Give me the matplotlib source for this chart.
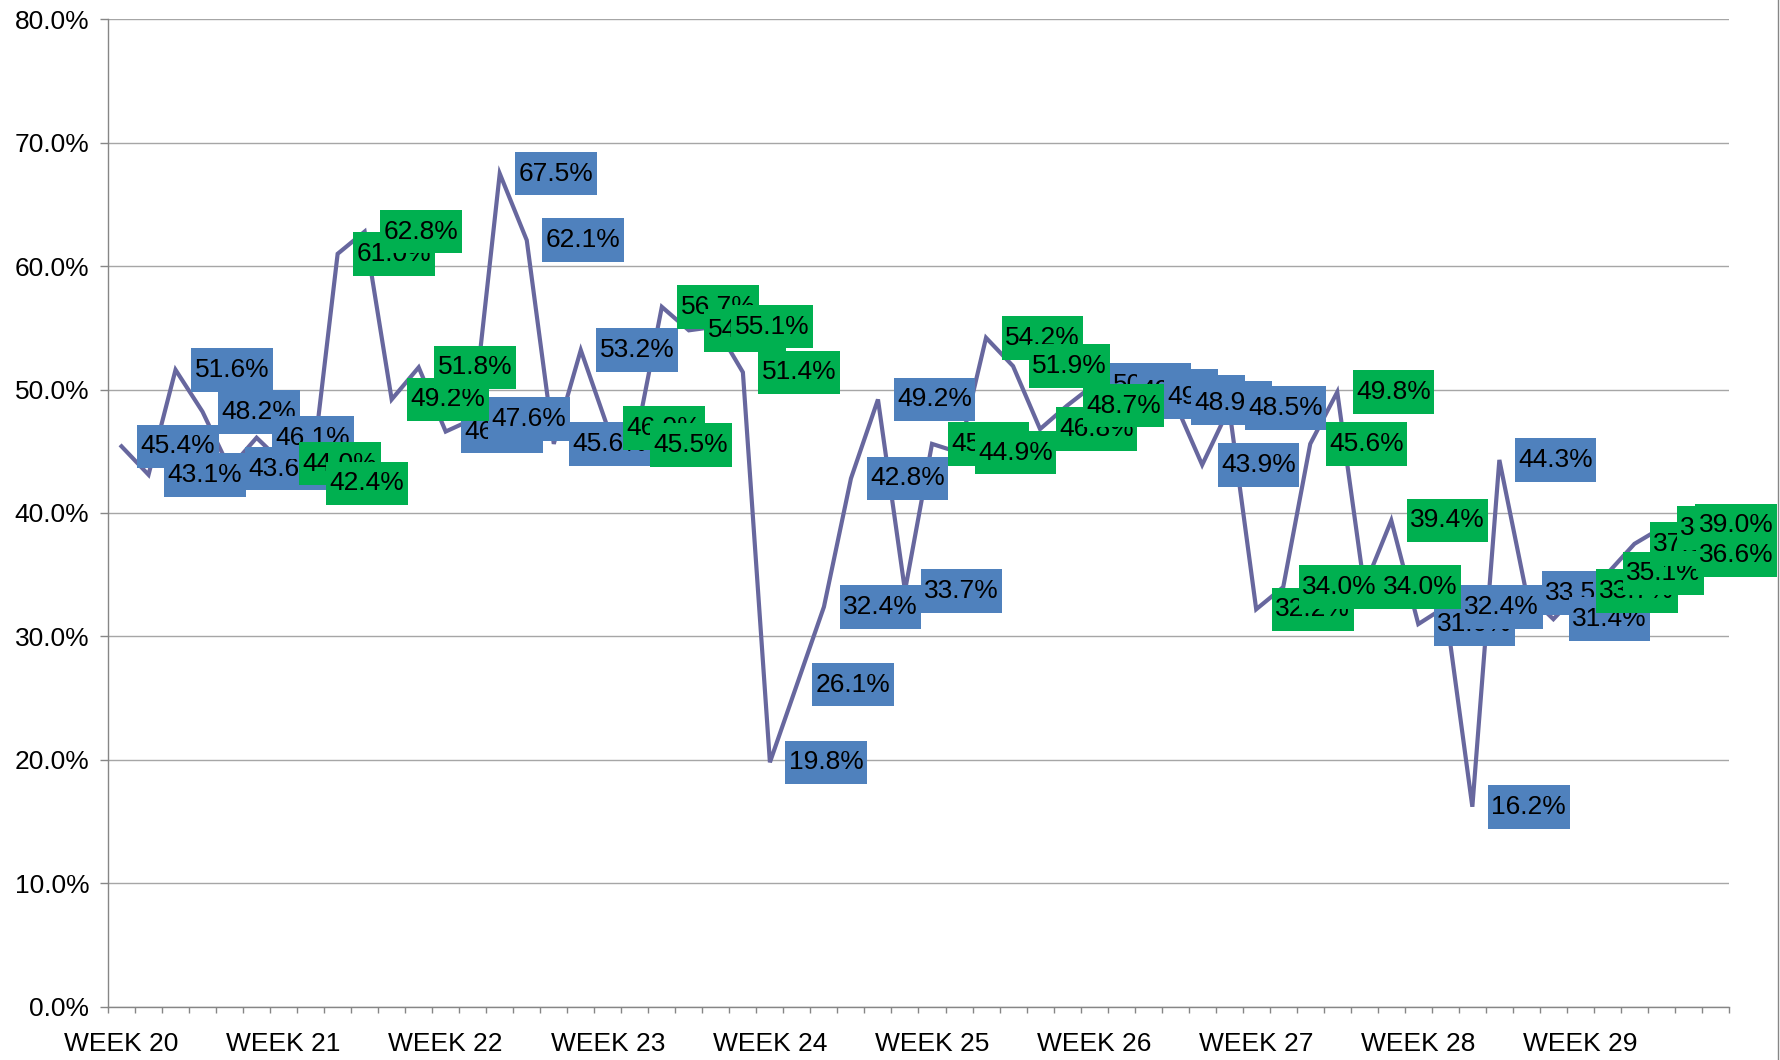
import matplotlib
matplotlib.use("Agg")
import matplotlib.pyplot as plt
from matplotlib.lines import Line2D
from matplotlib.path import Path
import numpy as np

plt.rcParams['font.family'] = ['Liberation Sans', 'DejaVu Sans']

# ---- data ----
weeks = ["WEEK 20", "WEEK 21", "WEEK 22", "WEEK 23", "WEEK 24",
         "WEEK 25", "WEEK 26", "WEEK 27", "WEEK 28", "WEEK 29"]
days_per_week = 6
values = [45.4, 43.1, 51.6, 48.2, 43.6, 46.1,
          44.0, 42.4, 61.0, 62.8, 49.2, 51.8,
          46.6, 47.6, 67.5, 62.1, 45.6, 53.2,
          46.9, 45.5, 56.7, 54.8, 55.1, 51.4,
          19.8, 26.1, 32.4, 42.8, 49.2, 33.7,
          45.6, 44.9, 54.2, 51.9, 46.8, 48.7,
          50.4, 49.9, 49.4, 48.9, 43.9, 48.5,
          32.2, 34.0, 45.6, 49.8, 34.0, 39.4,
          31.0, 32.4, 16.2, 44.3, 33.5, 31.4,
          33.7, 35.1, 37.5, 38.8, 39.0, 36.6]
y_ticks = [0, 10, 20, 30, 40, 50, 60, 70, 80]

# ---- style ----
LINE_C = '#67679E'
BLUE = '#4F81BD'
GREEN = '#00B050'
GRID_C = '#A6A6A6'
AXIS_C = '#868686'
PADX, PADY = 0.13, 0.37


def label_box(x0, y0, width, height, mutation_size):
    px = PADX * mutation_size
    py = PADY * mutation_size
    xa, ya = x0 - px, y0 - py
    xb, yb = x0 + width + px, y0 + height + py
    return Path([(xa, ya), (xb, ya), (xb, yb), (xa, yb), (xa, ya)],
                [Path.MOVETO, Path.LINETO, Path.LINETO, Path.LINETO, Path.CLOSEPOLY])


W, H = 1781, 1060
fig = plt.figure(figsize=(W / 100, H / 100), dpi=100)
ax = fig.add_axes([108 / W, 1 - 1006.7 / H, (1729 - 108) / W, (1006.7 - 19.3) / H])

n = len(values)
x = np.arange(n)
y = np.array(values) / 100.0

ax.plot(x, y, color=LINE_C, lw=3.0, solid_joinstyle='miter', zorder=2)

ax.set_xlim(-0.5, n - 0.5)
ax.set_ylim(0, 0.8)
ax.set_yticks([t / 100 for t in y_ticks])
ax.set_yticklabels([f"{t:.1f}%" for t in y_ticks], fontsize=19)
ax.yaxis.grid(True, color=GRID_C, lw=1.0)
ax.set_axisbelow(True)

ax.set_xticks(np.arange(-0.5, n, 1))
ax.set_xticklabels([])
ax.set_xticks(np.arange(0, n, days_per_week), minor=True)
ax.set_xticklabels(weeks, minor=True, fontsize=19)
ax.tick_params(axis='x', which='major', direction='out', length=4.5, color=AXIS_C, width=1)
ax.tick_params(axis='x', which='minor', length=0, pad=18)
ax.tick_params(axis='y', direction='out', length=5.5, color=AXIS_C, width=1, pad=8)

for s in ['top', 'right']:
    ax.spines[s].set_visible(False)
for s in ['left', 'bottom']:
    ax.spines[s].set_color(AXIS_C)
    ax.spines[s].set_linewidth(1.0)

OFF = 19
anns = []
for i, v in enumerate(values):
    green = (i // days_per_week) % 2 == 1
    a = ax.annotate(f"{v:.1f}%", xy=(i, v / 100), xytext=(OFF, 0),
                    textcoords='offset pixels', ha='left', va='center',
                    fontsize=19, color='black',
                    bbox=dict(boxstyle=label_box,
                              fc=GREEN if green else BLUE, ec='none'),
                    zorder=(6 if green else 5) + i / 1000.0,
                    annotation_clip=False)
    anns.append(a)

fig.add_artist(Line2D([1778 / W, 1778 / W], [0, 1], transform=fig.transFigure,
                      color=AXIS_C, lw=1.0))

fig.canvas.draw()
r = fig.canvas.get_renderer()
for a in anns:
    bb = a.get_bbox_patch().get_window_extent(r)
    if bb.x1 > 1777:
        a.xyann = (OFF - (bb.x1 - 1777), 0)

fig.savefig("out.png", dpi=100)
